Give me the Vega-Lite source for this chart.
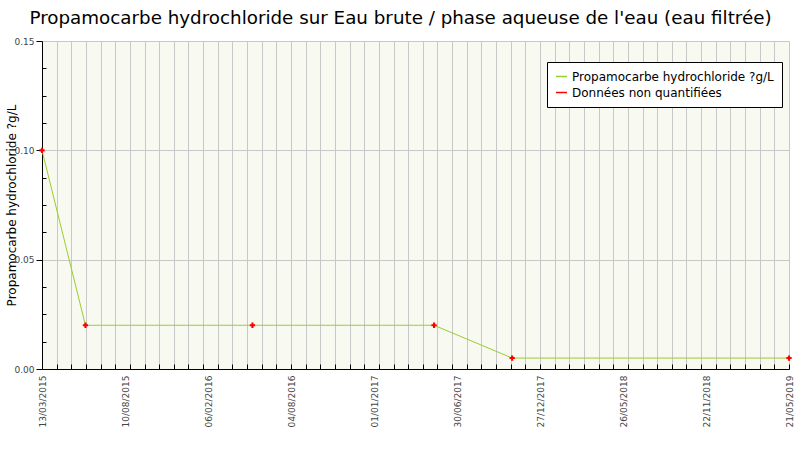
{
  "$schema": "https://vega.github.io/schema/vega-lite/v6.json",
  "width": 747,
  "height": 328,
  "autosize": {"type": "none"},
  "padding": {"left": 42, "top": 41, "right": 11, "bottom": 81},
  "background": "white",
  "title": {"text": "Propamocarbe hydrochloride sur Eau brute / phase aqueuse de l'eau (eau filtrée)", "font": "DejaVu Sans", "fontSize": 18.3, "fontWeight": "normal", "color": "black", "anchor": "middle", "offset": 9, "dx": -15},
  "config": {
    "view": {"stroke": null, "fill": "#f8f9f0"},
    "font": "DejaVu Sans"
  },
  "data": {"values": [
    {"date": "2015-03-13", "value": 0.1},
    {"date": "2015-06-10", "value": 0.02},
    {"date": "2016-05-17", "value": 0.02},
    {"date": "2017-05-24", "value": 0.02},
    {"date": "2017-10-31", "value": 0.005},
    {"date": "2019-05-21", "value": 0.005}
  ]},
  "encoding": {
    "y": {"field": "value", "type": "quantitative",
      "scale": {"domain": [0, 0.15], "nice": false, "zero": true},
      "axis": {
        "title": "Propamocarbe hydrochloride ?g/L",
        "titleFont": "DejaVu Sans", "titleFontSize": 12, "titleFontWeight": "normal", "titleColor": "black", "titlePadding": -5,
        "values": [0, 0.0125, 0.025, 0.0375, 0.05, 0.0625, 0.075, 0.0875, 0.1, 0.1125, 0.125, 0.1375, 0.15],
        "labelExpr": "round(datum.value*80)%4==0 ? format(datum.value,'.2f') : ''",
        "labelFontSize": 9, "labelColor": "#444", "labelPadding": 2,
        "domainColor": "black", "tickColor": "black",
        "tickSize": {"condition": {"test": "round(datum.value*80)%4==0", "value": 6}, "value": -4},
        "grid": true, "gridColor": "#c8c8c8",
        "gridOpacity": {"condition": {"test": "round(datum.value*80)%4==0", "value": 1}, "value": 0}
      }
    }
  },
  "layer": [
    {
      "mark": {"type": "line", "color": "#9acd32", "strokeWidth": 1},
      "encoding": {
        "x": {"field": "date", "type": "temporal",
          "scale": {"type": "utc", "domain": [1426204800000, 1558396800000]},
          "axis": {
            "orient": "bottom", "title": null, "labels": false,
            "values": [1426204800000,1428796800000,1431388800000,1433980800000,1436572800000,1439164800000,1441756800000,1444348800000,1446940800000,1449532800000,1452124800000,1454716800000,1457308800000,1459900800000,1462492800000,1465084800000,1467676800000,1470268800000,1472860800000,1475452800000,1478044800000,1480636800000,1483228800000,1485820800000,1488412800000,1491004800000,1493596800000,1496188800000,1498780800000,1501372800000,1503964800000,1506556800000,1509148800000,1511740800000,1514332800000,1516924800000,1519516800000,1522108800000,1524700800000,1527292800000,1529884800000,1532476800000,1535068800000,1537660800000,1540252800000,1542844800000,1545436800000,1548028800000,1550620800000,1553212800000,1555804800000,1558396800000],
            "grid": true, "gridColor": "#c8c8c8",
            "ticks": true, "tickSize": -5, "tickColor": "black",
            "domain": true, "domainColor": "black"
          }
        },
        "color": {"datum": "Propamocarbe hydrochloride ?g/L", "type": "nominal",
          "scale": {"domain": ["Propamocarbe hydrochloride ?g/L", "Données non quantifiées"], "range": ["#9acd32", "red"]},
          "legend": {
            "title": null, "orient": "none", "legendX": 505, "legendY": 21,
            "fillColor": "white", "strokeColor": "black", "padding": 8,
            "symbolType": "stroke", "symbolStrokeWidth": 1.5, "symbolSize": 120,
            "labelFont": "DejaVu Sans", "labelFontSize": 12, "labelColor": "black", "labelLimit": 400, "rowPadding": 3
          }
        }
      }
    },
    {
      "mark": {"type": "point", "shape": "cross", "filled": true, "size": 28, "opacity": 1},
      "encoding": {
        "x": {"field": "date", "type": "temporal",
          "scale": {"type": "utc", "domain": [1426204800000, 1558396800000]},
          "axis": {
            "orient": "bottom", "title": null,
            "values": [1426204800000,1440892800000,1455580800000,1470268800000,1484956800000,1499644800000,1514332800000,1529020800000,1543708800000,1558396800000],
            "labelExpr": "['13/03/2015','10/08/2015','06/02/2016','04/08/2016','01/01/2017','30/06/2017','27/12/2017','26/05/2018','22/11/2018','21/05/2019'][round((+datum.value - 1426204800000)/14688000000)]",
            "labelAngle": 270, "labelAlign": "right", "labelBaseline": "middle",
            "labelFontSize": 9, "labelColor": "#444", "labelPadding": 6,
            "grid": false, "ticks": false, "domain": false, "labelOverlap": false
          }
        },
        "color": {"datum": "Données non quantifiées", "type": "nominal"}
      }
    }
  ],
  "resolve": {"axis": {"x": "independent"}}
}
